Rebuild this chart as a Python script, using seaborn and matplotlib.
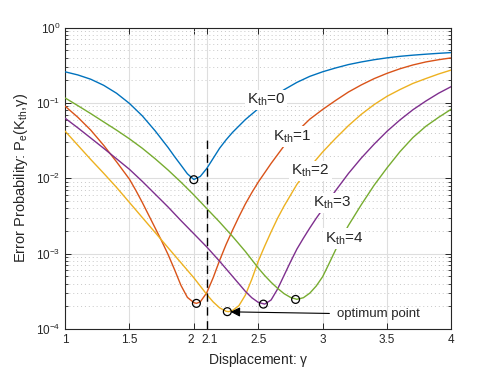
import numpy as np
import pandas as pd
import matplotlib
matplotlib.use("Agg")
import matplotlib.pyplot as plt
import seaborn as sns

# -------------------------------
# DATA
# -------------------------------
gamma_k0 = [1.0, 1.1, 1.2, 1.3, 1.4, 1.5, 1.6, 1.7, 1.75, 1.8, 1.85, 1.9, 1.95, 2.0, 2.05,
            2.1, 2.15, 2.2, 2.25, 2.3, 2.4, 2.5, 2.6, 2.7, 2.8, 2.9, 3.0, 3.1, 3.2, 3.3,
            3.4, 3.5, 3.6, 3.7, 3.8, 3.9, 4.0]
pe_k0 = [0.260, 0.236, 0.207, 0.172, 0.135, 0.0989, 0.0676, 0.0427, 0.0331, 0.0257, 0.0195,
         0.0150, 0.0115, 0.00966, 0.0106, 0.0135, 0.0184, 0.0251, 0.0324, 0.0407, 0.0603,
         0.0841, 0.114, 0.150, 0.188, 0.226, 0.260, 0.292, 0.324, 0.351, 0.376, 0.398, 0.417,
         0.432, 0.445, 0.457, 0.468]

gamma_k1 = [1.0, 1.1, 1.2, 1.3, 1.4, 1.5, 1.55, 1.6, 1.65, 1.7, 1.75, 1.8, 1.85, 1.9, 1.95,
            2.0, 2.02, 2.05, 2.1, 2.15, 2.2, 2.25, 2.3, 2.35, 2.4, 2.45, 2.5, 2.6, 2.7, 2.8,
            2.9, 3.0, 3.1, 3.2, 3.3, 3.4, 3.5, 3.6, 3.7, 3.8, 3.9, 4.0]
pe_k1 = [0.0912, 0.0646, 0.0437, 0.0275, 0.0166, 0.00977, 0.00692, 0.00479, 0.00324, 0.00219,
         0.00148, 9.77e-4, 6.17e-4, 3.80e-4, 2.63e-4, 2.24e-4, 2.19e-4, 2.29e-4, 3.02e-4,
         4.79e-4, 8.13e-4, 1.32e-3, 2.04e-3, 3.09e-3, 4.57e-3, 6.46e-3, 8.91e-3, 0.0158,
         0.0269, 0.0417, 0.0610, 0.0822, 0.108, 0.140, 0.174, 0.211, 0.248, 0.285, 0.320,
         0.351, 0.376, 0.398]

gamma_k2 = [1.0, 1.1, 1.2, 1.3, 1.4, 1.5, 1.6, 1.7, 1.8, 1.9, 1.95, 2.0, 2.05, 2.1, 2.15,
            2.2, 2.25, 2.27, 2.3, 2.35, 2.4, 2.45, 2.5, 2.55, 2.6, 2.65, 2.7, 2.8, 2.9, 3.0,
            3.1, 3.2, 3.3, 3.4, 3.5, 3.6, 3.7, 3.8, 3.9, 4.0]
pe_k2 = [0.0425, 0.0275, 0.0178, 0.0117, 0.00759, 0.00479, 0.00302, 0.00191, 0.00120, 7.59e-4,
         6.03e-4, 4.79e-4, 3.72e-4, 2.88e-4, 2.29e-4, 1.91e-4, 1.72e-4, 1.70e-4, 1.76e-4,
         2.04e-4, 2.82e-4, 4.57e-4, 7.94e-4, 1.26e-3, 1.95e-3, 2.95e-3, 4.27e-3, 8.32e-3,
         0.0141, 0.0224, 0.0339, 0.0501, 0.0708, 0.0955, 0.123, 0.151, 0.182, 0.211, 0.243,
         0.275]

gamma_k3 = [1.0, 1.1, 1.2, 1.3, 1.4, 1.5, 1.6, 1.7, 1.8, 1.9, 2.0, 2.1, 2.2, 2.3, 2.35,
            2.4, 2.45, 2.5, 2.55, 2.6, 2.65, 2.7, 2.75, 2.8, 2.85, 2.9, 2.95, 3.0, 3.1, 3.2,
            3.3, 3.4, 3.5, 3.6, 3.7, 3.8, 3.9, 4.0]
pe_k3 = [0.0631, 0.0468, 0.0343, 0.0251, 0.0182, 0.0132, 0.00912, 0.00617, 0.00417, 0.00275,
         0.00184, 0.00123, 7.94e-4, 5.01e-4, 3.98e-4, 3.16e-4, 2.60e-4, 2.26e-4, 2.14e-4,
         2.43e-4, 3.39e-4, 5.13e-4, 7.76e-4, 1.15e-3, 1.60e-3, 2.19e-3, 2.95e-3, 3.89e-3,
         6.84e-3, 0.0116, 0.0186, 0.0285, 0.0422, 0.0596, 0.0813, 0.106, 0.135, 0.166]

gamma_k4 = [1.0, 1.1, 1.2, 1.3, 1.4, 1.5, 1.6, 1.7, 1.8, 1.9, 2.0, 2.1, 2.2, 2.3, 2.4,
            2.5, 2.55, 2.6, 2.65, 2.7, 2.75, 2.8, 2.85, 2.9, 2.95, 3.0, 3.05, 3.1, 3.15, 3.2,
            3.3, 3.4, 3.5, 3.6, 3.7, 3.8, 3.9, 4.0]
pe_k4 = [0.117, 0.0923, 0.0724, 0.0562, 0.0437, 0.0335, 0.0251, 0.0182, 0.0129, 0.00891,
         0.00603, 0.00398, 0.00263, 0.00170, 0.00107, 6.46e-4, 5.13e-4, 4.17e-4, 3.47e-4,
         2.95e-4, 2.63e-4, 2.48e-4, 2.60e-4, 2.99e-4, 3.72e-4, 4.95e-4, 7.41e-4, 1.12e-3,
         1.66e-3, 2.37e-3, 4.47e-3, 8.13e-3, 0.0138, 0.0226, 0.0347, 0.0490, 0.0646, 0.0832]

# optimum (minimum) of each curve
opt_gamma = [2.0, 2.02, 2.26, 2.54, 2.79]
opt_pe = [0.0096, 2.19e-4, 1.7e-4, 2.14e-4, 2.47e-4]

# curve labels and where they sit
label_text = ["K$_{th}$=0", "K$_{th}$=1", "K$_{th}$=2", "K$_{th}$=3", "K$_{th}$=4"]
label_gamma = [2.56, 2.76, 2.905, 3.075, 3.165]
label_pe = [0.11, 0.036, 0.0125, 0.0047, 0.0016]

x_ticks = [1, 1.5, 2, 2.1, 2.5, 3, 3.5, 4]
x_tick_labels = ["1", "1.5", "2", "2.1", "2.5", "3", "3.5", "4"]
gamma_threshold = 2.1

colors = ["#0072BD", "#D95319", "#EDB120", "#7E2F8E", "#77AC30"]

# -------------------------------
# STYLE
# -------------------------------
sns.set_theme(style="ticks")
plt.rcParams['font.family'] = ['Liberation Sans', 'DejaVu Sans']
plt.rcParams['mathtext.default'] = 'regular'
dark = "#262626"
tick_size = 8.5

fig = plt.figure(figsize=(4.98, 3.70), dpi=100)
ax = fig.add_axes([0.1305, 0.1108, 0.7761, 0.8143])

curves = [(gamma_k0, pe_k0), (gamma_k1, pe_k1), (gamma_k2, pe_k2),
          (gamma_k3, pe_k3), (gamma_k4, pe_k4)]
for (g, p), c in zip(curves, colors):
    sns.lineplot(x=g, y=p, color=c, lw=1.0, ax=ax, zorder=3)

sns.scatterplot(x=opt_gamma, y=opt_pe, marker="o", s=32, facecolor="none",
                edgecolor="black", linewidth=0.9, ax=ax, zorder=5)

# threshold line
ax.plot([gamma_threshold, gamma_threshold], [1e-4, 0.034], color="black",
        ls=(0, (6, 4)), lw=1.0, zorder=4)

for t, gx, py in zip(label_text, label_gamma, label_pe):
    ax.text(gx, py, t, fontsize=11, ha="center", va="center", color=dark, zorder=6,
            bbox=dict(facecolor="white", edgecolor="none", pad=1.5))

ax.annotate("optimum point", xy=(2.285, 1.69e-4), xytext=(3.11, 1.57e-4),
            fontsize=9.5, va="center", ha="left", color=dark,
            arrowprops=dict(arrowstyle="-|>", color="black", lw=0.8,
                            shrinkA=3, shrinkB=0, mutation_scale=14))

ax.set_yscale("log")
ax.set_xlim(1, 4)
ax.set_ylim(1e-4, 1)

# "2" and "2.1" sit too close for normal tick labels, so they are written
# by hand with a small sideways nudge; the others are ordinary tick labels
crowded = {2: -2.0, 2.1: 2.0}
ax.set_xticks(x_ticks)
ax.set_xticklabels(["" if v in crowded else s for v, s in zip(x_ticks, x_tick_labels)])
pad = plt.rcParams['xtick.major.pad']
for v, s in zip(x_ticks, x_tick_labels):
    if v in crowded:
        ax.annotate(s, xy=(v, 0), xycoords=("data", "axes fraction"),
                    xytext=(crowded[v], -pad), textcoords="offset points",
                    ha="center", va="top", fontsize=tick_size, color=dark)

ax.grid(which="major", axis="both", color="#dedede", lw=0.8, zorder=0)
ax.yaxis.grid(which="minor", color="#c8c8c8", ls=(0, (1, 3)), lw=0.7, zorder=0)

ax.tick_params(which="both", direction="in", top=True, right=True, colors=dark,
               labelsize=tick_size)
ax.tick_params(which="major", length=4, width=0.7)
ax.tick_params(which="minor", length=2.5, width=0.6)
for s in ax.spines.values():
    s.set_color(dark)
    s.set_linewidth(0.8)

ax.set_xlabel(r"Displacement: $\gamma$", fontsize=10, color=dark)
ax.set_ylabel(r"Error Probability: P$_e$(K$_{th}$,$\gamma$)", fontsize=10.5, color=dark)

fig.savefig("out.png", dpi=100)
